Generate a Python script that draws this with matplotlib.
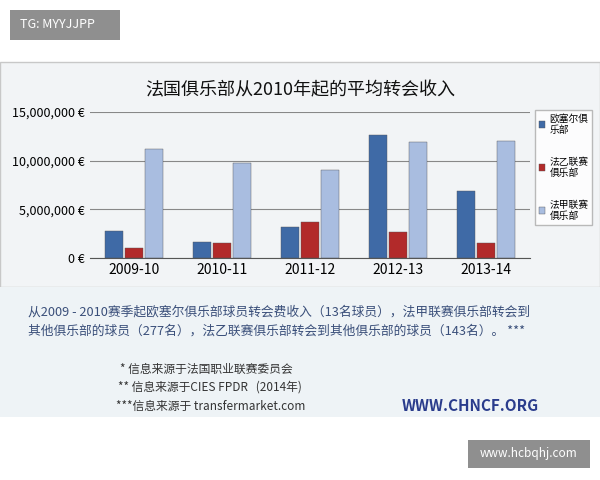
import matplotlib
matplotlib.use("Agg")
import matplotlib.pyplot as plt
import numpy as np
from matplotlib.patches import Rectangle

plt.rcParams['font.family'] = ['Noto Sans CJK SC', 'DejaVu Sans']

seasons = ["2009-10", "2010-11", "2011-12", "2012-13", "2013-14"]
series_names = ["欧塞尔俱\n乐部", "法乙联赛\n俱乐部", "法甲联赛\n俱乐部"]
auxerre = [2800000, 1600000, 3200000, 12600000, 6900000]
ligue2 = [1000000, 1500000, 3700000, 2700000, 1500000]
ligue1 = [11200000, 9800000, 9000000, 11900000, 12000000]
colors = ["#3f6aa6", "#b22a2a", "#a9bde0"]
yticks = [0, 5000000, 10000000, 15000000]
ytick_labels = ["0 €", "5,000,000 €", "10,000,000 €", "15,000,000 €"]

W, H = 600, 480
fig = plt.figure(figsize=(6, 4.8), dpi=100)
fig.patch.set_facecolor("white")

bg = fig.add_axes([0, 0, 1, 1]); bg.set_xlim(0, W); bg.set_ylim(H, 0); bg.axis("off")
bg.add_patch(Rectangle((0, 62), 600, 225, facecolor="#f2f4f6", edgecolor="#c8c8c8", lw=1))
bg.add_patch(Rectangle((0, 287), 600, 130, facecolor="#eef3f6", edgecolor="none"))
bg.add_patch(Rectangle((10, 10), 110, 30, facecolor="#8f8f8f", edgecolor="none"))
bg.text(20, 25, "TG: MYYJJPP", color="white", fontsize=9, va="center")
bg.add_patch(Rectangle((468, 440), 122, 28, facecolor="#8f8f8f", edgecolor="none"))
bg.text(529, 454, "www.hcbqhj.com", color="white", fontsize=8.5, va="center", ha="center")
bg.text(300, 90, "法国俱乐部从2010年起的平均转会收入", fontsize=13, ha="center", va="center", color="#111")

tc = "#3a4f7a"
bg.text(28, 312, "从2009 - 2010赛季起欧塞尔俱乐部球员转会费收入（13名球员），法甲联赛俱乐部转会到", fontsize=9.2, color=tc, va="center")
bg.text(28, 331, "其他俱乐部的球员（277名），法乙联赛俱乐部转会到其他俱乐部的球员（143名）。 ***", fontsize=9.2, color=tc, va="center")
bg.text(120, 369, "* 信息来源于法国职业联赛委员会", fontsize=8.5, color="#333", va="center")
bg.text(118, 387, "** 信息来源于CIES FPDR   (2014年)", fontsize=8.5, color="#333", va="center")
bg.text(116, 406, "***信息来源于 transfermarket.com", fontsize=8.5, color="#333", va="center")
bg.text(470, 406, "WWW.CHNCF.ORG", fontsize=11, color="#2a3c8c", va="center", ha="center", fontweight="bold")

ax = fig.add_axes([90/W, 1-258/H, 440/W, 146/H])
ax.set_facecolor("none")
x = np.arange(len(seasons))
w = 0.21
for i, (vals, c) in enumerate(zip([auxerre, ligue2, ligue1], colors)):
    ax.bar(x + (i-1)*0.23, vals, w, color=c, label=series_names[i], edgecolor="#555", lw=0.3)
ax.set_xlim(-0.5, 4.5)
ax.set_ylim(0, 15000000)
ax.set_yticks(yticks); ax.set_yticklabels(ytick_labels, fontsize=9)
ax.set_xticks(x); ax.set_xticklabels(seasons, fontsize=10)
ax.tick_params(length=0)
ax.grid(axis="y", color="#888", lw=0.8)
ax.set_axisbelow(True)
for s in ["top", "right", "left"]:
    ax.spines[s].set_visible(False)
ax.spines["bottom"].set_color("#555")
ax.legend(loc="upper left", bbox_to_anchor=(1.0, 1.05), frameon=True, edgecolor="#aaa", fancybox=False,
          fontsize=7, labelspacing=2.2, handlelength=0.6, handletextpad=0.5)

fig.savefig("out.png", dpi=100)
